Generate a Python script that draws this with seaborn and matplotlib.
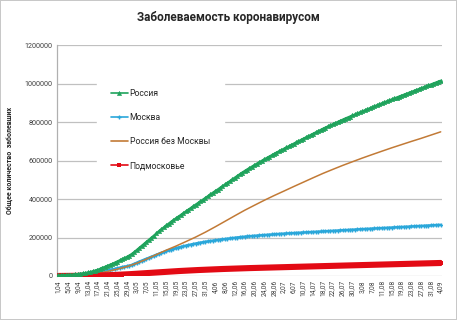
import matplotlib
matplotlib.use("Agg")
import matplotlib.pyplot as plt
import seaborn as sns

# ---------------- data (1 Apr .. 4 Sep, daily) ----------------
russia = [
    2777, 3548, 4149, 4731, 5389, 6343, 7497, 8672, 10131, 11917, 13584, 15770, 18328, 21102, 24490,
    27938, 32008, 36793, 42853, 47121, 52763, 57999, 62773, 68622, 74588, 80949, 87147, 93558, 99399, 106498,
    114431, 124054, 134687, 145268, 155370, 165929, 177160, 187859, 198676, 209688, 221344, 232243, 242271,
    252245, 262843, 272043, 281752, 290678, 299941, 308705, 317554, 326448, 335882, 344481, 353427, 362342,
    370680, 379051, 387623, 396575, 405843,
    414878, 423741, 432277, 440538, 449256, 458102, 467073, 476043, 485253, 493657, 502436, 511423, 520129,
    528964, 537210, 545458, 553301, 561091, 568292, 576162, 583879, 591465, 598878, 606043, 613148, 620794,
    627646, 634437, 641156, 647849,
    654405, 661165, 667883, 674515, 681251, 687862, 694230, 700792, 707301, 713936, 720547, 727162, 733699,
    739947, 746369, 752797, 759203, 765437, 771546, 777486, 783328, 789190, 795038, 800849, 806720, 812485,
    818120, 823515, 828990, 834499, 839981,
    845443, 850870, 856264, 861423, 866627, 871894, 877135, 882347, 887536, 892654, 897599, 902701, 907758,
    912823, 917884, 922853, 927745, 932493, 937321, 942106, 946976, 951897, 956749, 961493, 966189, 970865,
    975576, 980405, 985346, 990326, 995319,
    1000048, 1005000, 1009995, 1015105,
]

moscow = [
    1880, 2475, 2923, 3357, 3893, 4484, 5181, 5841, 6698, 7822, 8852, 10158, 11513, 13002, 14776,
    16146, 18105, 20754, 24324, 26350, 29433, 31981, 33940, 36897, 39509, 42480, 45351, 48426, 50646, 53739,
    57300, 62658, 68606, 74401, 79249, 83800, 89500, 94500, 99700, 104800, 110200, 115200, 119700,
    124100, 128800, 132800, 136900, 140700, 144600, 147900, 151200, 154400, 157500, 160500, 163300, 166000,
    168700, 171000, 173300, 175700, 178200,
    180000, 181800, 183500, 185200, 186900, 188600, 190300, 192000, 193700, 195300, 196900, 198500, 200100,
    201600, 203000, 204200, 205400, 206500, 207600, 208700, 209800, 210800, 211800, 212800, 213800, 214800,
    215800, 216700, 217600, 218500,
    219400, 220150, 220900, 221700, 222450, 223200, 224000, 224750, 225500, 226250, 227000, 227700, 228450,
    229200, 229900, 230650, 231400, 232100, 232800, 233550, 234300, 235000, 235700, 236450, 237150, 237850,
    238550, 239250, 239950, 240650, 241350,
    242050, 242750, 243450, 244150, 244850, 245550, 246250, 246950, 247600, 248300, 249000, 249700, 250400,
    251100, 251800, 252500, 253200, 253900, 254600, 255300, 256000, 256700, 257400, 258100, 258800, 259500,
    260200, 260900, 261600, 262300, 263000,
    263700, 264400, 265100, 265800,
]

podmoskovye = [
    100, 150, 200, 260, 330, 410, 500, 600, 720, 860, 1020, 1200, 1400, 1630, 1880,
    2160, 2470, 2810, 3180, 3590, 4030, 4500, 5000, 5530, 6090, 6680, 7300, 7950, 8630, 9340,
    10080, 10850, 11640, 12450, 13280, 14120, 14970, 15830, 16690, 17550, 18410, 19260, 20100,
    20930, 21750, 22560, 23350, 24130, 24900, 25650, 26380, 27090, 27780, 28450, 29100, 29740,
    30360, 30960, 31550, 32130, 32700,
    33250, 33790, 34320, 34840, 35350, 35850, 36340, 36820, 37290, 37750, 38200, 38640, 39070,
    39490, 39900, 40300, 40700, 41090, 41470, 41850, 42220, 42580, 42940, 43290, 43640, 43980,
    44320, 44650, 44980, 45300,
    45640, 45970, 46310, 46640, 46980, 47320, 47650, 47990, 48330, 48660, 49000, 49340, 49680,
    50010, 50350, 50690, 51030, 51370, 51700, 52040, 52380, 52720, 53060, 53390, 53730, 54070,
    54410, 54750, 55080, 55420, 55760,
    56100, 56440, 56780, 57120, 57460, 57800, 58140, 58480, 58820, 59160, 59500, 59840, 60180,
    60520, 60860, 61200, 61540, 61880, 62220, 62560, 62900, 63240, 63580, 63920, 64260, 64600,
    64940, 65280, 65620, 65960, 66300,
    66640, 66980, 67320, 67660,
]

# Russia without Moscow, read at every labelled date (every 4th day)
russia_wo_moscow = [
    897, 1496, 3433, 6815, 13903, 23330, 35079, 48753, 66081, 87660,
    111144, 134043, 155341, 178382, 201980, 227643, 255338, 284043, 312923, 341258,
    367462, 393243, 417737, 441015, 464662, 487686, 510747, 533337, 554190, 574635,
    593849, 612814, 630885, 648599, 666084, 682721, 699349, 715376, 732319, 749305,
]

tick_labels = [
    "1,04", "5,04", "9,04", "13,04", "17,04", "21,04", "25,04", "29,04", "3,05", "7,05",
    "11,05", "15,05", "19,05", "23,05", "27,05", "31,05", "4,06", "8,06", "12,06", "16,06",
    "20,06", "24,06", "28,06", "2,07", "6,07", "10,07", "14,07", "18,07", "22,07", "26,07",
    "30,07", "3,08", "7,08", "11,08", "15,08", "19,08", "23,08", "27,08", "31,08", "4,09",
]
y_ticks = [0, 200000, 400000, 600000, 800000, 1000000, 1200000]

labels = ["Россия", "Москва", "Россия без Москвы", "Подмосковье"]
colors = ["#1fa35c", "#2aa7da", "#c27a36", "#e30a14"]

# ---------------- figure ----------------
sns.set_style("white")
plt.rcParams["font.family"] = ["Roboto", "DejaVu Sans"]

fig = plt.figure(figsize=(4.57, 3.20), dpi=100)
fig.patch.set_facecolor("white")
fig.patch.set_edgecolor("#c8c8c8")
fig.patch.set_linewidth(1.2)
ax = fig.add_axes([0.1247, 0.1375, 0.8423, 0.7215])

days = list(range(len(russia)))
tick_pos = list(range(0, len(russia), 4))

sns.lineplot(x=days, y=moscow, ax=ax, color=colors[1], linewidth=1.8,
             marker="+", markersize=3.2, markeredgewidth=1.0, markeredgecolor=colors[1],
             label=labels[1], zorder=3)
sns.lineplot(x=tick_pos, y=russia_wo_moscow, ax=ax, color=colors[2], linewidth=1.1,
             label=labels[2], zorder=4)
sns.lineplot(x=days, y=podmoskovye, ax=ax, color=colors[3], linewidth=4.4,
             marker="s", markersize=2.6, markeredgewidth=0, markerfacecolor=colors[3],
             label=labels[3], zorder=5)
sns.lineplot(x=days, y=russia, ax=ax, color=colors[0], linewidth=1.6,
             marker="^", markersize=3.1, markeredgewidth=0.4, markeredgecolor=colors[0],
             label=labels[0], zorder=6)

ax.set_xlim(-0.5, len(russia) - 0.5)
ax.set_ylim(0, 1200000)
ax.set_yticks(y_ticks)
ax.set_yticklabels([str(v) for v in y_ticks], fontsize=5.2, color="#404040")
ax.set_xticks(tick_pos)
ax.set_xticklabels(tick_labels, rotation=90, fontsize=4.8, color="#404040")
ax.tick_params(axis="both", length=0, pad=3)

ax.grid(axis="y", color="#c0c0c0", linewidth=0.9)
ax.set_axisbelow(True)
for s in ["top", "right", "bottom"]:
    ax.spines[s].set_visible(False)
ax.spines["left"].set_color("#b0b0b0")
ax.spines["left"].set_linewidth(0.9)

ax.set_ylabel("Общее количество  заболевших", fontsize=5, fontweight="bold", labelpad=8)
ax.set_xlabel("")

fig.suptitle("Заболеваемость коронавирусом", fontsize=8.5, fontweight="bold", y=0.965)

h, l = ax.get_legend_handles_labels()
order = [l.index(x) for x in labels]
leg = ax.legend([h[i] for i in order], [l[i] for i in order],
                loc="upper left", bbox_to_anchor=(0.104, 0.87), borderaxespad=0,
                frameon=True, fancybox=False, facecolor="white", edgecolor="white",
                framealpha=1, fontsize=6.2, labelspacing=1.75, handlelength=2.0,
                handletextpad=0.2, borderpad=1.6)
leg.set_zorder(2.5)
for line in leg.get_lines():
    line.set_linewidth(1.2)
    line.set_markersize(3.0)

fig.savefig("out.png", dpi=100)
